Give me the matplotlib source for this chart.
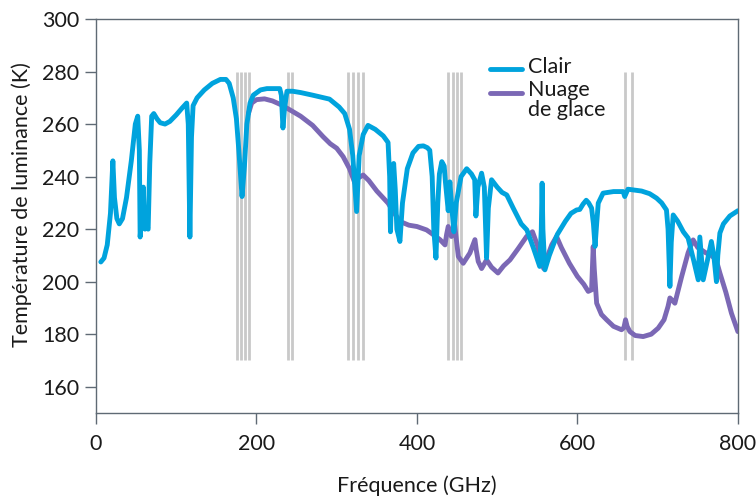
import matplotlib.pyplot as plt
import numpy as np

# data
clair_f = [6, 10, 14, 18, 21, 23, 26, 29, 33, 38, 44, 49, 52, 54, 55, 57, 59, 60, 61, 63, 65, 67,
           69.4, 72, 76, 80, 86, 92, 100, 107, 113, 115, 117, 119, 121, 126, 135, 145, 155, 162,
           166, 171, 175, 178, 182, 185, 188, 192, 196, 205, 213, 229, 231, 233, 235, 238, 245,
           255, 270, 291, 303, 310, 316, 320, 324.8, 328, 333, 339, 348, 358, 364, 366, 367, 369,
           371, 373, 375, 378.8, 382, 388, 395, 402, 408, 413, 416, 419, 421, 423.7, 426, 428,
           431, 434, 435.5, 439, 441, 443, 446, 449, 455, 462, 468, 472, 473.5, 476, 480.6, 484,
           486.8, 489, 493, 500, 506, 512, 520, 530, 537, 545, 553, 555, 556, 557, 559.5, 565,
           575, 585, 592, 599, 603, 607, 611, 614, 617.7, 620, 622, 624, 626, 632, 645, 657, 659,
           663, 680, 690, 698.7, 705, 711, 713, 715.3, 717, 719.4, 725, 732, 738, 745, 750.6,
           752.6, 756.8, 762, 767, 770, 773.3, 775, 777.6, 782, 790, 800]
clair_t = [207.5, 209, 214, 226, 246, 232, 224, 222, 224, 232, 246, 260, 263, 250, 217, 225, 236,
           225, 220, 221, 220, 245, 263, 264, 262, 260.5, 260, 261, 263.5, 266, 268, 260, 217, 255,
           267, 270, 273, 275.5, 277, 277, 275.5, 270, 262, 250, 232.4, 244, 260, 268, 271, 273,
           273.5, 273.5, 271, 258.5, 266, 272.5, 272.5, 272, 271, 269.5, 266.5, 264, 258, 248,
           226.7, 248, 256, 259.5, 258, 255.5, 253, 240, 219, 238, 245, 235, 220, 215.3, 230, 243,
           249, 251.5, 251.7, 251, 250, 240, 220, 209, 230, 241, 245.7, 244, 238, 227, 238, 230,
           219, 230, 240, 243, 241, 238.8, 225, 236, 241.3, 236, 209, 228, 238.8, 236, 234, 233,
           228, 222, 219.7, 213, 205.8, 220, 237.5, 220, 204.5, 210, 218, 223, 226, 227.3, 227.5,
           229.5, 231, 230, 228, 222, 213.4, 222, 229.9, 233.7, 234.3, 234.3, 232.4, 235.2,
           234.5, 233.5, 231.8, 230, 227.3, 220, 198.2, 215, 225.4, 223, 219, 216.6, 208, 200.7,
           217, 200.7, 208, 215.3, 210, 200, 210, 218.5, 222, 225, 227]

glace_f = [190, 194, 200, 210, 220, 231, 241.7, 255, 270, 283, 292, 300, 308, 316, 322.7, 327,
           333, 340, 350, 364, 372, 379, 390, 400, 412, 420, 428.7, 435, 437, 439, 443, 447,
           451.6, 457.7, 466, 472.3, 474, 476.4, 480.6, 486.8, 493, 501, 508, 516, 526, 536.7,
           544, 550, 555, 558, 562, 568, 574, 580, 590, 600, 608, 613.5, 617.7, 619.7, 621, 624,
           630, 636.4, 645, 655, 658, 660, 662, 665.4, 672, 682, 692, 700.7, 708, 713, 715.3,
           718, 721.5, 730, 738, 744.3, 750, 760, 767, 773, 777.6, 785, 792, 800]
glace_t = [264, 268, 269.3, 269.6, 268.8, 267.3, 265.4, 263, 259.5, 255.2, 252.5, 250.8, 247.6,
           243, 237.5, 239.5, 240.6, 238.5, 234.5, 229.9, 226, 222.9, 221.5, 221, 219.7, 218,
           216, 214, 218, 221, 217.2, 221.6, 209.6, 207, 210.9, 216, 212, 207.7, 205, 208.3,
           205.5, 203.3, 206, 208.3, 212.5, 217.2, 219, 214, 208, 205, 209, 214, 217.2, 213, 207,
           202, 199, 196.3, 196.9, 213.4, 205, 191.8, 187.5, 185.5, 183, 181.7, 182.5, 185.5,
           183, 181, 179.5, 179.1, 180, 182.3, 185.5, 190.6, 193.8, 193, 191.8, 202, 211, 215.9,
           213, 211, 210, 208.3, 203.3, 196, 188, 181]

# instrument channel positions (GHz)
canaux = [176, 181, 186, 191, 239.5, 244.5, 314, 320.5, 326, 332.5,
          439, 444.5, 450, 455.5, 659, 668]
canal_bas, canal_haut = 170, 280

bleu = '#00a3dd'
violet = '#7b68b5'
texte = '#1a1a1a'
fs = 15.5

plt.rcParams['font.family'] = ['Lato', 'DejaVu Sans']
fig = plt.figure(figsize=(7.56, 5.0), dpi=100)
ax = fig.add_axes([0.127, 0.174, 0.849, 0.788])

ax.vlines(canaux, canal_bas, canal_haut, color='#c9c9c9', lw=2.0, zorder=1)

ax.plot(glace_f, glace_t, color=violet, lw=3.5, solid_joinstyle='round',
        solid_capstyle='round', zorder=2)
ax.plot(clair_f, clair_t, color=bleu, lw=3.5, solid_joinstyle='round',
        solid_capstyle='round', zorder=3)

ax.set_xlim(0, 800)
ax.set_ylim(150, 300)
ax.set_xticks([0, 200, 400, 600, 800])
ax.set_yticks(np.arange(160, 301, 20))

spine_col = '#5f6a74'
for s in ax.spines.values():
    s.set_color(spine_col)
    s.set_linewidth(1.0)
ax.tick_params(colors=spine_col, labelcolor=texte, labelsize=fs, length=8, width=1.0)
ax.tick_params(axis='x', pad=7)
ax.tick_params(axis='y', pad=4)

ax.set_xlabel('Fréquence (GHz)', fontsize=fs, color=texte, va='top')
ax.xaxis.set_label_coords(0.5, -0.158)
ax.set_ylabel('Température de luminance (K)', fontsize=fs, color=texte)
ax.yaxis.set_label_coords(-0.1, 0.528)

# legend drawn by hand to match the reference layout
ax.plot([0.614, 0.664], [0.872, 0.872], color=bleu, lw=3.5, solid_capstyle='round',
        transform=ax.transAxes, clip_on=False)
ax.plot([0.614, 0.664], [0.812, 0.812], color=violet, lw=3.5, solid_capstyle='round',
        transform=ax.transAxes, clip_on=False)
ax.text(0.673, 0.878, 'Clair', fontsize=fs, color=texte, va='center', ha='left',
        transform=ax.transAxes)
ax.text(0.673, 0.820, 'Nuage', fontsize=fs, color=texte, va='center', ha='left',
        transform=ax.transAxes)
ax.text(0.673, 0.769, 'de glace', fontsize=fs, color=texte, va='center', ha='left',
        transform=ax.transAxes)

fig.savefig('out.png', dpi=100)
